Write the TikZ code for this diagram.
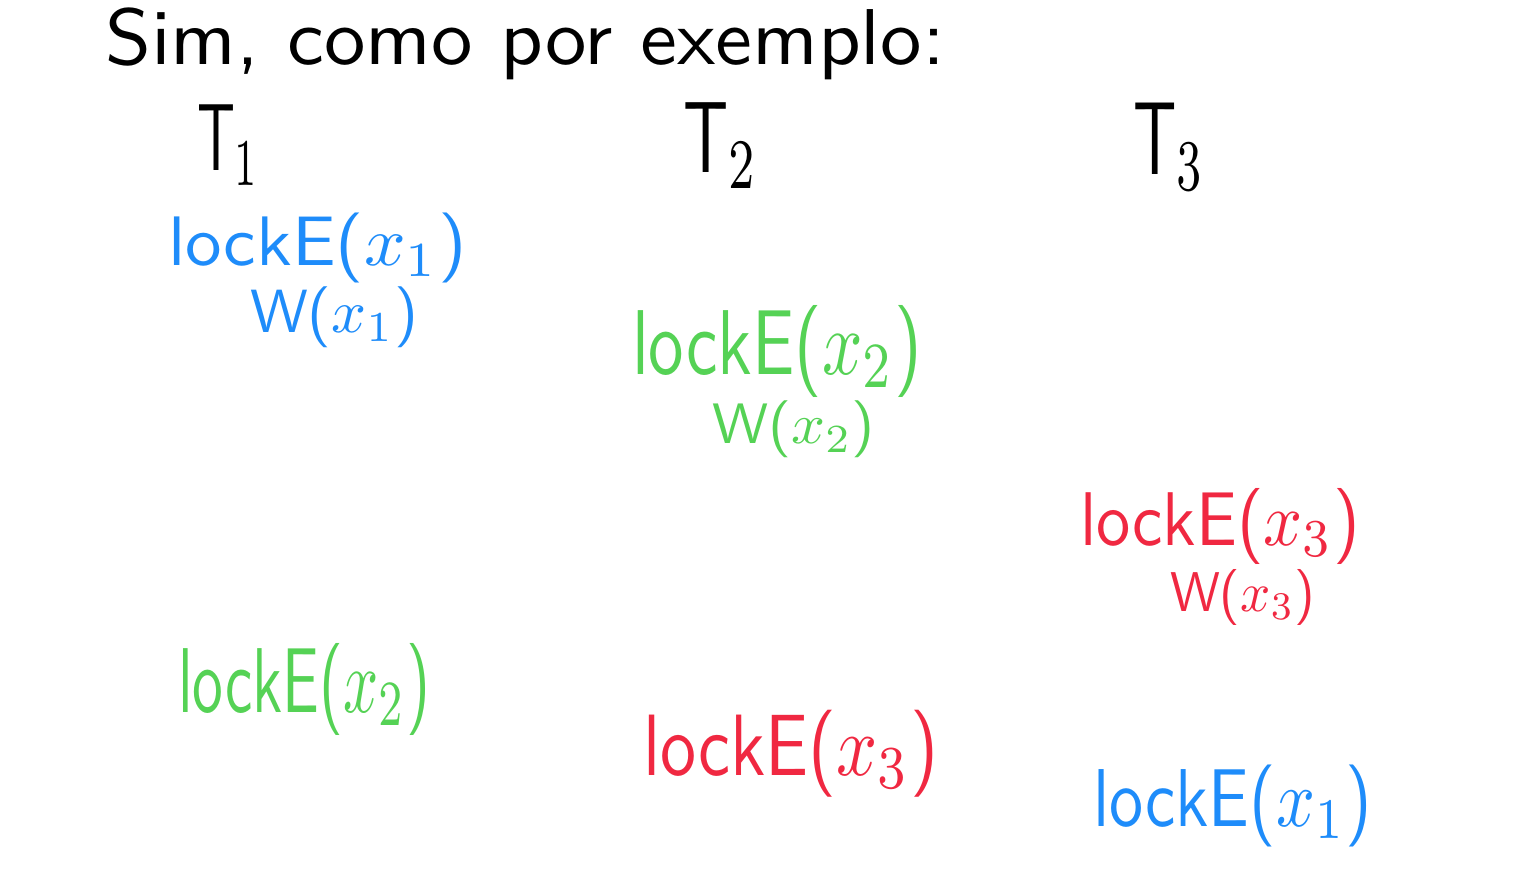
\documentclass[tikz,border=0pt]{standalone}
\usepackage{graphicx}
\definecolor{blueink}{RGB}{30,140,250}
\definecolor{greenink}{RGB}{85,210,85}
\definecolor{redink}{RGB}{240,40,65}
\newcommand{\hw}[3]{\resizebox*{#1}{#2}{\sffamily #3}}
\begin{document}
\begin{tikzpicture}[x=1pt,y=-1pt,
  txt/.style={inner sep=0pt, outer sep=0pt, anchor=north west},
  blu/.style={txt, text=blueink},
  grn/.style={txt, text=greenink},
  rd/.style={txt, text=redink}]
\useasboundingbox (0,0) rectangle (1536,892);
\fill[white] (0,0) rectangle (1536,892);
\node[txt] (title) at (105,8) {\hw{840pt}{72pt}{Sim, como por exemplo:}};
\node[txt] (t1) at (197,105) {\hw{63pt}{80pt}{T$_1$}};
\node[txt] (t2) at (683,103) {\hw{75pt}{85pt}{T$_2$}};
\node[txt] (t3) at (1133,103) {\hw{72pt}{87pt}{T$_3$}};
\node[blu] (lockxa) at (168,213) {\hw{299pt}{70pt}{lockE($x_1$)}};
\node[blu] (wxa) at (250,287) {\hw{168pt}{61pt}{W($x_1$)}};
\node[grn] (lockxb) at (632,305) {\hw{290pt}{92pt}{lockE($x_2$)}};
\node[grn] (wxb) at (712,401) {\hw{163pt}{57pt}{W($x_2$)}};
\node[rd] (lockxc) at (1080,488) {\hw{280pt}{76pt}{lockE($x_3$)}};
\node[rd] (wxc) at (1170,569) {\hw{145pt}{56pt}{W($x_3$)}};
\node[grn] (lockxd) at (178,643) {\hw{252pt}{92pt}{lockE($x_2$)}};
\node[rd] (lockxe) at (643,710) {\hw{295pt}{87pt}{lockE($x_3$)}};
\node[blu] (lockxf) at (1093,765) {\hw{279pt}{82pt}{lockE($x_1$)}};
\end{tikzpicture}
\end{document}
